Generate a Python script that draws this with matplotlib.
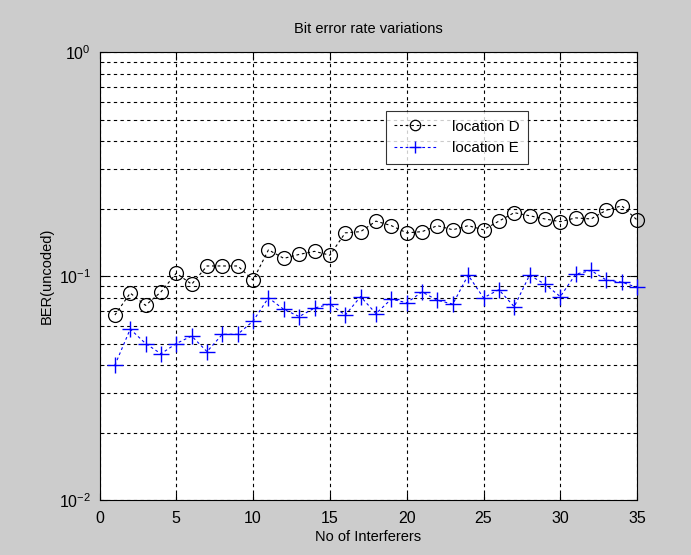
import numpy as np
import matplotlib.pyplot as plt
from matplotlib.ticker import LogLocator, NullFormatter

# number of interferers
n_interf = list(range(1, 36))

# BER (uncoded)
ber_loc_d = [0.067, 0.084, 0.074, 0.085, 0.103, 0.092, 0.111, 0.111, 0.111, 0.096,
             0.131, 0.120, 0.125, 0.129, 0.124, 0.156, 0.158, 0.176, 0.168, 0.156,
             0.158, 0.168, 0.161, 0.168, 0.161, 0.176, 0.192, 0.186, 0.180, 0.175,
             0.182, 0.180, 0.197, 0.206, 0.178]
ber_loc_e = [0.040, 0.058, 0.050, 0.045, 0.050, 0.054, 0.046, 0.055, 0.055, 0.063,
             0.080, 0.071, 0.066, 0.072, 0.075, 0.067, 0.081, 0.068, 0.079, 0.076,
             0.085, 0.078, 0.075, 0.101, 0.080, 0.087, 0.073, 0.101, 0.092, 0.081,
             0.102, 0.106, 0.096, 0.094, 0.089]

bg = '#cccccc'
plt.rcParams['font.family'] = ['Liberation Sans', 'DejaVu Sans']

fig = plt.figure(figsize=(6.91, 5.55), dpi=100, facecolor=bg)
ax = fig.add_axes([0.144, 0.099, 0.778, 0.807])
ax.set_facecolor('white')

ax.semilogy(n_interf, ber_loc_d, color='black', linestyle=(0, (2.5, 2.5)), linewidth=0.8,
            marker='o', markersize=10, markerfacecolor='none', markeredgewidth=0.9,
            label='location D', clip_on=False, zorder=3)
ax.semilogy(n_interf, ber_loc_e, color='blue', linestyle=(0, (2.5, 2.5)), linewidth=0.8,
            marker='+', markersize=11, markeredgewidth=1.0,
            label='location E', clip_on=False, zorder=3)

ax.set_xlim(0, 35)
ax.set_ylim(1e-2, 1)
ax.set_xticks(range(0, 36, 5))
ax.yaxis.set_major_locator(LogLocator(base=10))
ax.yaxis.set_minor_locator(LogLocator(base=10, subs=np.arange(2, 10)))
ax.yaxis.set_minor_formatter(NullFormatter())

ax.grid(True, which='both', color='black', linestyle=(0, (3, 3)), linewidth=0.8)
ax.tick_params(which='both', direction='in', top=True, right=True, labelsize=11.5)
ax.tick_params(axis='x', pad=8)
ax.tick_params(axis='y', pad=6)
ax.tick_params(which='major', length=5)
ax.tick_params(which='minor', length=3)
for s in ax.spines.values():
    s.set_linewidth(0.8)

ax.set_title('Bit error rate variations', fontsize=10.5, pad=14)
ax.set_xlabel('No of Interferers', fontsize=10.5, labelpad=3)
ax.set_ylabel('BER(uncoded)', fontsize=10.5, labelpad=4)

leg = ax.legend(loc='upper left', bbox_to_anchor=(0.532, 0.868), fontsize=11,
                frameon=True, fancybox=False, handlelength=2.8, borderpad=0.55,
                labelspacing=0.5, markerscale=0.75, handletextpad=1.0,
                borderaxespad=0)
leg.get_frame().set_edgecolor('black')
leg.get_frame().set_linewidth(0.8)

fig.savefig('out.png', dpi=100, facecolor=bg)
